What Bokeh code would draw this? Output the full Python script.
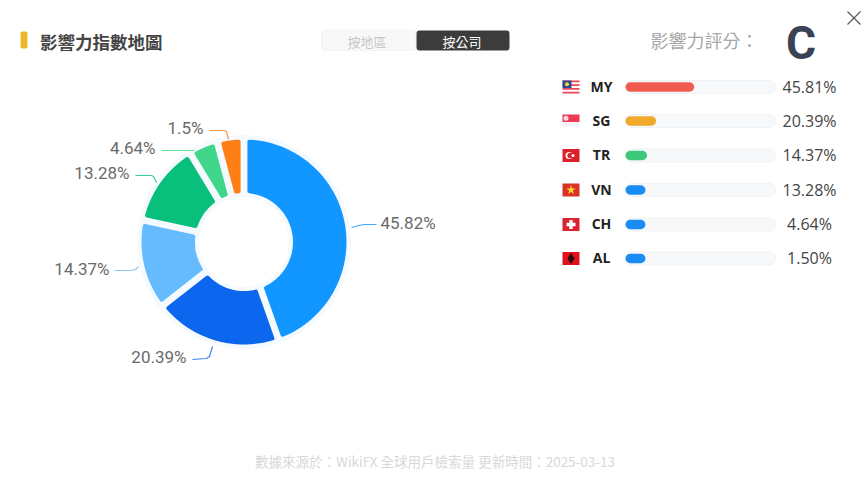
import numpy as np
from bokeh.plotting import figure
from bokeh.models import Range1d
from bokeh.embed import file_html
from bokeh.resources import INLINE
from bokeh.core.properties import value

# ---- data ----
pie_values = [45.82, 20.39, 14.37, 13.28, 4.64, 1.5]
pie_labels = ["45.82%", "20.39%", "14.37%", "13.28%", "4.64%", "1.5%"]
pie_colors = ["#1296ff", "#0c66ee", "#66bbff", "#08c07c", "#3fd68a", "#ff7f17"]
codes = ["MY", "SG", "TR", "VN", "CH", "AL"]
shares = [45.81, 20.39, 14.37, 13.28, 4.64, 1.50]
share_labels = ["45.81%", "20.39%", "14.37%", "13.28%", "4.64%", "1.50%"]
bar_colors = ["#f25c50", "#f0a92a", "#3cc878", "#1a8cf5", "#1a8cf5", "#1a8cf5"]
title = "影響力指數地圖"
score_label = "影響力評分："
score = "C"
footer = "數據來源於：WikiFX 全球用戶檢索量 更新時間：2025-03-13"

# ---- layout ----
W, H = 865, 481
CJK = value("Noto Sans CJK TC")
LAT = value("Open Sans")
PIE = value("Roboto")
def Y(v):
    return 481 - np.asarray(v, dtype=float)

p = figure(width=W, height=H, x_range=Range1d(0, 865), y_range=Range1d(0, 481),
           x_axis_type=None, y_axis_type=None, toolbar_location=None,
           output_backend="svg", min_border=0, outline_line_color=None,
           background_fill_color="white", border_fill_color="white")

def txt(x, y, t, size, color, align="left", style="normal", font=CJK):
    p.text(x=[x], y=[float(Y(y))], text=[t], text_font=font, text_font_size=f"{size}px",
           text_color=color, text_align=align, text_baseline="middle", text_font_style=style)

# ---- header ----
p.quad(left=[20], right=[27], top=Y([31]), bottom=Y([48]), fill_color="#efb82a", line_color=None, border_radius=2)
txt(39.5, 40.5, title, 17.5, "#444444", style="bold")
p.quad(left=[321], right=[415], top=Y([30]), bottom=Y([50]), fill_color="#f8f8f8", line_color="#f3f3f3", border_radius=3)
p.quad(left=[416], right=[509], top=Y([30]), bottom=Y([50]), fill_color="#3c3c3c", line_color=None, border_radius=3)
txt(366.5, 40.5, "按地區", 13, "#c8c8c8", "center")
txt(461.5, 40.5, "按公司", 13, "#ffffff", "center")
txt(650, 39.5, score_label, 18, "#a8a8a8")
txt(800.5, 42, score, 46, "#3a4256", "center", font=value("Roboto"), style="bold")
p.segment(x0=[847, 847], y0=Y([11, 24]), x1=[860, 860], y1=Y([24, 11]), line_color="#555555", line_width=1.1)

# ---- donut ----
CX, CY = 243.5, 241.5
R_OUT, R_IN = 100.5, 51.0
STROKE = 4.0
GAP = 5.4
MIN_ANGLE = 15.0
ROT = 0.0

vals = np.array(pie_values)
small = vals / vals.sum() * 360 < MIN_ANGLE
angles = np.where(small, MIN_ANGLE, vals / vals[~small].sum() * (360 - MIN_ANGLE * small.sum()))
ends = np.cumsum(angles) + ROT
starts = ends - angles

p.annulus(x=[CX], y=[float(Y(CY))], inner_radius=45, outer_radius=107, fill_color="#f5fafe", line_color=None)

xs, ys = [], []
for a0, a1 in zip(starts, ends):
    o_pad = np.degrees(np.arcsin(GAP / R_OUT))
    i_pad = np.degrees(np.arcsin(GAP / R_IN))
    t_o = np.radians(np.linspace(a0 + o_pad, a1 - o_pad, 60))
    t_i = np.radians(np.linspace(a1 - i_pad, a0 + i_pad, 30))
    xs.append(np.r_[CX + R_OUT * np.sin(t_o), CX + R_IN * np.sin(t_i)])
    ys.append(Y(np.r_[CY - R_OUT * np.cos(t_o), CY - R_IN * np.cos(t_i)]))
p.patches(xs=xs, ys=ys, fill_color=pie_colors, line_color=pie_colors, line_width=STROKE, line_join="round")

# leader lines and labels (layout positions)
lead_x = [[351, 358, 364, 376], [192, 206, 209, 212], [114, 130, 135, 138], [135, 151, 153, 156], [161, 194], [209, 224, 226, 228]]
lead_y = [[227, 225, 224, 224], [359, 358, 356, 346], [270, 270, 269, 266], [175, 175, 176, 182], [150, 150], [130, 130, 131, 139]]
for lx, ly, c in zip(lead_x, lead_y, pie_colors):
    p.line(lx, Y(ly), line_color=c, line_width=1.2, line_alpha=0.8)
lab_x = [380, 186, 109, 129, 155, 203]
lab_y = [222.5, 356.5, 268.5, 172.5, 147.5, 127.5]
lab_a = ["left", "right", "right", "right", "right", "right"]
for x, y, t, a in zip(lab_x, lab_y, pie_labels, lab_a):
    txt(x, y, t, 17, "#6a6a6a", a, font=PIE)

# ---- rows ----
rows = np.array([86.5, 120.5, 155, 189.5, 224, 258])
BAR_X, BAR_W, MIN_W = 625, 150, 20
p.hbar(y=Y(rows), left=BAR_X, right=BAR_X + BAR_W, height=13, fill_color="#f7f8fa", line_color="#f1f2f4", border_radius=6)
widths = np.maximum(np.array(shares) / 100 * BAR_W, MIN_W)
p.hbar(y=Y(rows), left=BAR_X, right=BAR_X + widths, height=9.5, fill_color=bar_colors, line_color=None, border_radius=5)
for c, s, y in zip(codes, share_labels, rows):
    txt(601, y - 1, c, 14, "#222222", "center", "bold", font=LAT)
    txt(809, y - 0.5, s, 16, "#444444", "center", font=LAT)

# ---- flags (decor) ----
FL, FR = 562, 579
def flag(y, color, h=13):
    p.quad(left=[FL], right=[FR], top=Y([y - h / 2]), bottom=Y([y + h / 2]), fill_color=color, line_color=None)
# MY
flag(rows[0], "#ffffff")
sy = rows[0] - 6.5
for i in range(0, 7, 1):
    if i % 2 == 0:
        p.quad(left=[FL], right=[FR], top=Y([sy + i * 13 / 7]), bottom=Y([sy + (i + 1) * 13 / 7]), fill_color="#e8455a", line_color=None)
p.quad(left=[FL], right=[FL + 9], top=Y([sy]), bottom=Y([sy + 7.5]), fill_color="#2a4a8c", line_color=None)
p.scatter(x=[FL + 4.5], y=Y([sy + 3.7]), size=4, marker="circle", fill_color="#f5d04a", line_color=None)
# SG
p.quad(left=[FL], right=[FR], top=Y([114]), bottom=Y([121.5]), fill_color="#ee3a55", line_color=None)
p.quad(left=[FL], right=[FR], top=Y([121.5]), bottom=Y([126]), fill_color="#f4f4f6", line_color=None)
p.scatter(x=[FL + 3.5], y=Y([117.7]), size=5, marker="circle", fill_color="#ffd9dd", line_color=None)
# TR
flag(rows[2], "#dc2029")
p.scatter(x=[FL + 6.5], y=Y([rows[2]]), size=7, marker="circle", fill_color="#ffffff", line_color=None)
p.scatter(x=[FL + 7.7], y=Y([rows[2]]), size=5.6, marker="circle", fill_color="#dc2029", line_color=None)
p.scatter(x=[FL + 10.5], y=Y([rows[2]]), size=3, marker="circle", fill_color="#ffffff", line_color=None)
# VN
flag(rows[3], "#da3325")
p.scatter(x=[(FL + FR) / 2], y=Y([rows[3]]), size=10, marker="star", fill_color="#fbd233", line_color=None)
# CH
flag(rows[4], "#d92430")
p.scatter(x=[(FL + FR) / 2], y=Y([rows[4]]), size=9, marker="plus", fill_color="#ffffff", line_color=None)
# AL
flag(rows[5], "#e2111c")
p.scatter(x=[(FL + FR) / 2], y=Y([rows[5]]), size=11, marker="diamond", fill_color="#2a0e10", line_color=None)

# ---- footer ----
txt(434.5, 460.5, footer, 13.5, "#d8d8d8", "center")

open("out.html", "w").write(file_html(p, INLINE))
